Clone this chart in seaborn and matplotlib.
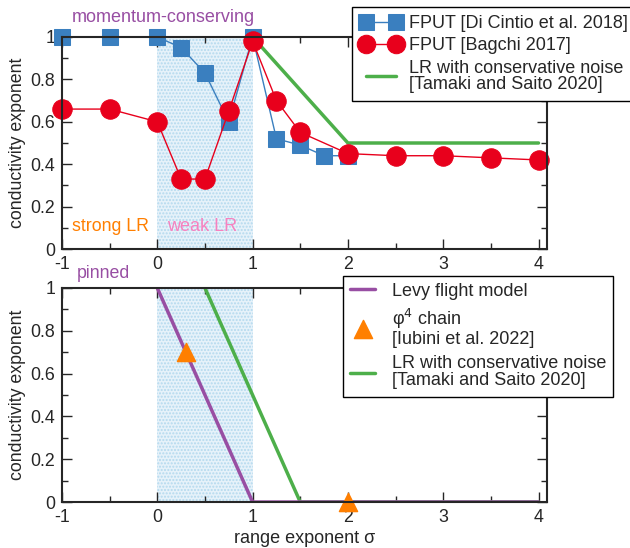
import numpy as np
import pandas as pd
import matplotlib
matplotlib.use("Agg")
import matplotlib.pyplot as plt
import seaborn as sns
from matplotlib.ticker import MultipleLocator

sns.set_style("ticks")
plt.rcParams['font.family'] = ['Liberation Sans', 'DejaVu Sans']

# ---- data ----
dicintio_x = [-1, -0.5, 0, 0.25, 0.5, 0.75, 1, 1.25, 1.5, 1.75, 2]
dicintio_y = [1.0, 1.0, 1.0, 0.95, 0.83, 0.60, 1.0, 0.52, 0.49, 0.44, 0.44]
bagchi_x = [-1, -0.5, 0, 0.25, 0.5, 0.75, 1, 1.25, 1.5, 2, 2.5, 3, 3.5, 4]
bagchi_y = [0.66, 0.66, 0.60, 0.33, 0.33, 0.65, 0.98, 0.70, 0.55, 0.45, 0.44, 0.44, 0.43, 0.42]
tamaki_top_x = [1, 2, 4]
tamaki_top_y = [1.0, 0.5, 0.5]
levy_x = [0, 1, 4]
levy_y = [1.0, 0.0, 0.0]
phi4_x = [0.3, 2]
phi4_y = [0.7, 0.0]
tamaki_bot_x = [0.5, 1.5, 4]
tamaki_bot_y = [1.0, 0.0, 0.0]
xticks = [-1, 0, 1, 2, 3, 4]

blue = '#3a7fbf'
red = '#e8001c'
green = '#4daf4a'
purple = '#984ea3'
orange = '#ff7f00'
pink = '#f781bf'

fig = plt.figure(figsize=(6.3, 5.48), dpi=100)
ax1 = fig.add_axes([0.0984, 0.5456, 0.770, 0.3869])
ax2 = fig.add_axes([0.0984, 0.0839, 0.770, 0.3906])

for ax in (ax1, ax2):
    ax.axvspan(0, 1, facecolor='#e6f2fa', edgecolor='#b3d9ee', hatch='.....', linewidth=0, zorder=0)
    ax.set_xlim(-1, 4.09)
    ax.set_ylim(0, 1)
    ax.set_xticks(xticks)
    ax.set_xticklabels([str(t) for t in xticks])
    ax.xaxis.set_minor_locator(MultipleLocator(0.5))
    ax.set_yticks([0, 0.2, 0.4, 0.6, 0.8, 1])
    ax.set_yticklabels(['0', '0.2', '0.4', '0.6', '0.8', '1'])
    ax.yaxis.set_minor_locator(MultipleLocator(0.1))
    ax.tick_params(which='both', direction='in', top=True, right=True, labelsize=12.8, pad=5)
    ax.tick_params(which='major', length=7, width=1)
    ax.tick_params(which='minor', length=4, width=1)
    for s in ax.spines.values():
        s.set_linewidth(1.5)
        s.set_zorder(5)
    ax.set_ylabel('conductivity exponent', fontsize=12.8, labelpad=3)

# top panel
sns.lineplot(x=dicintio_x, y=dicintio_y, ax=ax1, color=blue, marker='s', markersize=11.5,
             markeredgecolor=blue, linewidth=1, label='FPUT [Di Cintio et al. 2018]', clip_on=False, zorder=3)
sns.lineplot(x=bagchi_x, y=bagchi_y, ax=ax1, color=red, marker='o', markersize=14,
             markeredgecolor=red, linewidth=1, label='FPUT [Bagchi 2017]', clip_on=False, zorder=4)
sns.lineplot(x=tamaki_top_x, y=tamaki_top_y, ax=ax1, color=green, linewidth=2.5,
             label='LR with conservative noise\n[Tamaki and Saito 2020]', zorder=2)
ax1.set_xlabel('')
leg1 = ax1.legend(loc='upper left', bbox_to_anchor=(0.598, 1.14), numpoints=2, fontsize=13,
                  frameon=True, fancybox=False, edgecolor='black', framealpha=1,
                  handlelength=2.3, handletextpad=0.4, borderpad=0.45, labelspacing=0.28,
                  borderaxespad=0, markerscale=0.95)
leg1.get_frame().set_linewidth(1)
leg1.set_zorder(10)
for t in leg1.get_texts():
    t.set_linespacing(0.95)
ax1.text(0.02, 1.05, 'momentum-conserving', transform=ax1.transAxes, color=purple, fontsize=13,
         ha='left', va='bottom')
ax1.text(-0.9, 0.065, 'strong LR', color=orange, fontsize=12.8, ha='left', va='bottom')
ax1.text(0.1, 0.065, 'weak LR', color=pink, fontsize=13, ha='left', va='bottom')

# bottom panel
sns.lineplot(x=levy_x, y=levy_y, ax=ax2, color=purple, linewidth=2.5, label='Levy flight model', zorder=3)
sns.scatterplot(x=phi4_x, y=phi4_y, ax=ax2, color=orange, marker='^', s=170, edgecolor=orange,
                label='φ$^4$ chain\n[Iubini et al. 2022]', clip_on=False, zorder=4)
sns.lineplot(x=tamaki_bot_x, y=tamaki_bot_y, ax=ax2, color=green, linewidth=2.5,
             label='LR with conservative noise\n[Tamaki and Saito 2020]', zorder=2)
ax2.set_xlabel('range exponent σ', fontsize=13, labelpad=3)
leg2 = ax2.legend(loc='upper left', bbox_to_anchor=(0.579, 1.058), scatterpoints=1, fontsize=13,
                  frameon=True, fancybox=False, edgecolor='black', framealpha=1,
                  handlelength=1.4, handletextpad=0.9, borderpad=0.4, labelspacing=0.4,
                  borderaxespad=0)
leg2.get_frame().set_linewidth(1)
leg2.set_zorder(10)
for t in leg2.get_texts():
    t.set_linespacing(1.0)
ax2.text(-0.84, 1.03, 'pinned', color=purple, fontsize=12.8, ha='left', va='bottom')

fig.savefig('out.png', dpi=100)
